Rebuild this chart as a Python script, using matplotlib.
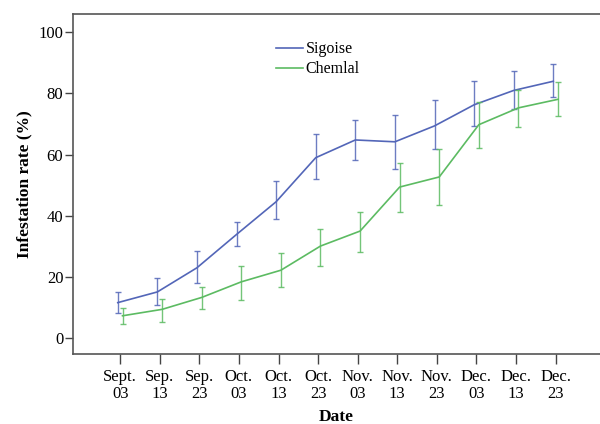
import numpy as np
import matplotlib
matplotlib.use('Agg')
from matplotlib import pyplot as plt

dates = ['Sept.\n03', 'Sep.\n13', 'Sep.\n23', 'Oct.\n03', 'Oct.\n13', 'Oct.\n23',
         'Nov.\n03', 'Nov.\n13', 'Nov.\n23', 'Dec.\n03', 'Dec.\n13', 'Dec.\n23']

sigoise = [11.6, 15.1, 23.0, 33.9, 44.6, 59.0, 64.8, 64.2, 69.4, 76.3, 81.0, 84.0]
sigoise_lo = [8.1, 10.7, 17.9, 30.2, 38.9, 51.9, 58.2, 55.3, 61.7, 69.3, 75.0, 78.7]
sigoise_hi = [15.1, 19.5, 28.4, 38.0, 51.3, 66.6, 71.2, 73.0, 77.8, 84.1, 87.4, 89.8]

chemlal = [7.3, 9.4, 13.3, 18.4, 22.2, 30.1, 35.0, 49.4, 52.7, 69.8, 75.3, 78.1]
chemlal_lo = [4.5, 5.4, 9.4, 12.6, 16.8, 23.5, 28.0, 41.1, 43.5, 62.2, 69.0, 72.6]
chemlal_hi = [9.7, 12.7, 16.8, 23.6, 27.7, 35.8, 41.3, 57.3, 61.7, 77.2, 81.3, 83.7]

plt.rcParams['font.family'] = ['Liberation Serif', 'DejaVu Serif']

blue = '#5366b8'
green = '#5cbb62'

fig = plt.figure(figsize=(6, 4.24), dpi=100)
ax = fig.add_axes([0.1217, 0.1651, 0.8783, 0.8019])

x = np.arange(len(dates))
series = [
    ('Sigoise', sigoise, sigoise_lo, sigoise_hi, blue, -0.06),
    ('Chemlal', chemlal, chemlal_lo, chemlal_hi, green, 0.06),
]
for name, vals, lo, hi, col, dx in series:
    vals = np.array(vals)
    err = [vals - np.array(lo), np.array(hi) - vals]
    ax.errorbar(x + dx, vals, yerr=err, fmt='none', ecolor=col, elinewidth=1.0,
                capsize=2.5, capthick=1.0, alpha=0.85)
    ax.plot(x + dx, vals, color=col, lw=1.2, label=name)

ax.set_xlim(-1.19, 12.12)
ax.set_ylim(-5.2, 106)
ax.set_xticks(x)
ax.set_xticklabels(dates, fontsize=12, linespacing=1.05)
ax.set_yticks([0, 20, 40, 60, 80, 100])
ax.tick_params(axis='y', labelsize=12, length=6, width=1, color='#444444', pad=1)
ax.tick_params(axis='x', length=7, width=1, color='#444444', pad=4)

for side in ['left', 'bottom', 'top']:
    ax.spines[side].set_color('#555555')
    ax.spines[side].set_linewidth(1.2)
ax.spines['right'].set_visible(False)

ax.set_xlabel('Date', fontsize=12.5, fontweight='bold', labelpad=5)
ax.set_ylabel('Infestation rate (%)', fontsize=12.5, fontweight='bold', labelpad=4)

ax.legend(loc='upper left', bbox_to_anchor=(0.46, 0.903), bbox_transform=fig.transFigure,
          frameon=False, fontsize=11.5, handlelength=1.7, handletextpad=0.15,
          labelspacing=0.25, borderaxespad=0, borderpad=0)

plt.savefig('out.png', dpi=100)
